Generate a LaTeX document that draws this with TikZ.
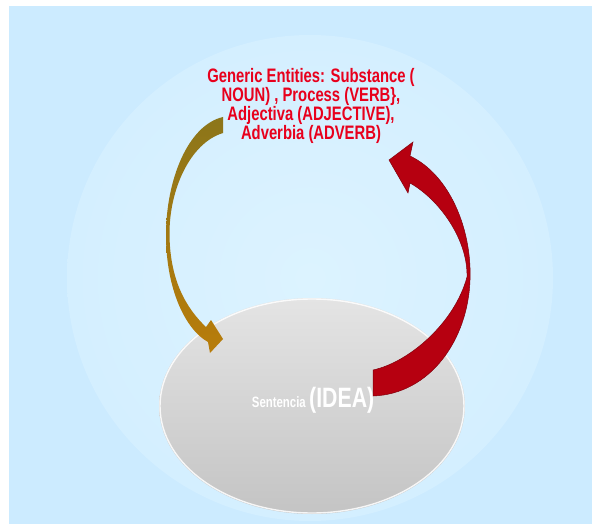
\documentclass[tikz,border=0pt]{standalone}
\usepackage{fontspec}
\newfontfamily\condfont[FakeStretch=0.76]{Liberation Sans}
\begin{document}
\begin{tikzpicture}[x=1pt,y=-1pt,
  title/.style={font=\condfont\bfseries\fontsize{19.5}{19}\selectfont, text=titlered, anchor=base, inner sep=0pt},
  ideatext/.style={text=white, anchor=base, inner sep=0pt}]
\definecolor{bgblue}{RGB}{204,235,255}
\definecolor{circin}{RGB}{220,243,255}
\definecolor{circout}{RGB}{212,239,255}
\definecolor{titlered}{RGB}{232,0,28}
\definecolor{graytop}{RGB}{228,228,228}
\definecolor{graybot}{RGB}{196,196,196}
\definecolor{olivetop}{RGB}{140,118,26}
\definecolor{olivebot}{RGB}{184,124,10}
\definecolor{arrowred}{RGB}{182,0,16}
\definecolor{arrowredd}{RGB}{130,0,12}
\useasboundingbox (0,0) rectangle (592,524);
% background
\fill[bgblue] (9,6) rectangle (592,524);
% big light circle
\shade[inner color=circin, outer color=circout] (310,278) circle[radius=243pt];
% gray ellipse
\shade[top color=graytop, bottom color=graybot] (312,406) ellipse[x radius=153pt, y radius=108pt];
\draw[white, line width=1.4pt, opacity=0.85] (312,406) ellipse[x radius=152pt, y radius=107pt];
% title text
\node[title] (t1) at (311,83) {Generic Entities: Substance (};
\node[title] (t2) at (311,102) {NOUN) , Process (VERB\},};
\node[title] (t3) at (311,121) {Adjectiva (ADJECTIVE),};
\node[title] (t4) at (311,139.5) {Adverbia (ADVERB)};
% idea text
\node[ideatext, font=\condfont\bfseries\fontsize{15}{15}\selectfont, anchor=base east] (sent) at (306,407) {Sentencia};
\node[ideatext, font=\condfont\bfseries\fontsize{28}{28}\selectfont, anchor=base west] (idea) at (309,407) {(IDEA)};
% left (olive) arrow
\shade[top color=olivetop, bottom color=olivebot]
  (223,117) .. controls (188,125) and (166,180) .. (166,235)
  .. controls (166,290) and (186,330) .. (208,342)
  -- (210,353) -- (223,339) -- (211,320) -- (206,327)
  .. controls (186,308) and (170,280) .. (169.5,235)
  .. controls (169,190) and (190,143) .. (223,133) -- cycle;
% right (red) arrow
\filldraw[fill=arrowred, draw=arrowredd, line width=0.5pt]
  (373,370) .. controls (410,362) and (455,322) .. (467,277)
  .. controls (468,240) and (440,200) .. (410,183)
  -- (408,193) -- (389,160) -- (413,142) -- (410,156)
  .. controls (450,175) and (472,230) .. (470,280)
  .. controls (468,340) and (430,394) .. (373,396) -- cycle;
\end{tikzpicture}
\end{document}
